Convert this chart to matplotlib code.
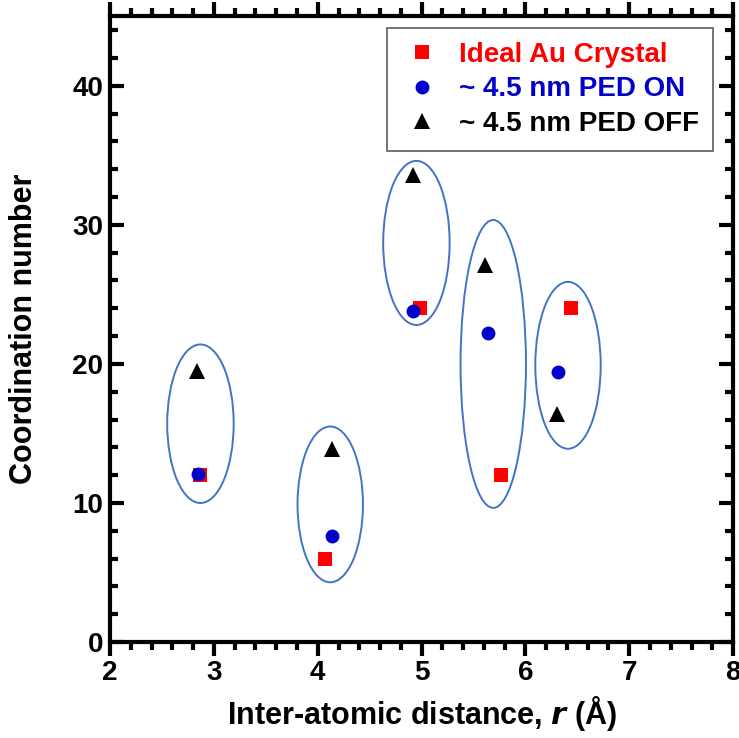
import matplotlib
matplotlib.use("Agg")
import matplotlib.pyplot as plt
from matplotlib.patches import Ellipse
from matplotlib.ticker import MultipleLocator

plt.rcParams["font.family"] = ["Liberation Sans", "DejaVu Sans"]
plt.rcParams["font.weight"] = "bold"

# data
ideal_r = [2.87, 4.07, 4.98, 5.76, 6.44]
ideal_cn = [12.0, 6.0, 24.0, 12.0, 24.0]
on_r = [2.85, 4.14, 4.92, 5.64, 6.31]
on_cn = [12.1, 7.6, 23.8, 22.2, 19.4]
off_r = [2.84, 4.14, 4.92, 5.61, 6.30]
off_cn = [19.5, 13.9, 33.6, 27.1, 16.4]

# grouping ellipses: centre r, centre cn, width, height
ell_r = [2.87, 4.12, 4.95, 5.69, 6.41]
ell_cn = [15.7, 9.9, 28.7, 20.0, 19.9]
ell_w = [0.64, 0.63, 0.64, 0.63, 0.63]
ell_h = [11.4, 11.2, 11.8, 20.7, 12.0]

fig = plt.figure(figsize=(7.39, 7.38), dpi=100)
ax = fig.add_axes([0.149, 0.130, 0.843, 0.848])

for x, y, w, h in zip(ell_r, ell_cn, ell_w, ell_h):
    ax.add_patch(Ellipse((x, y), w, h, fill=False, ec="#4472C4", lw=1.4, zorder=1))

ax.plot(ideal_r, ideal_cn, "s", color="#FF0000", ms=10, mew=0, label="Ideal Au Crystal", zorder=3)
ax.plot(on_r, on_cn, "o", color="#0000CC", ms=10, mew=0, label="~ 4.5 nm PED ON", zorder=4)
ax.plot(off_r, off_cn, "^", color="black", ms=11, mew=0, label="~ 4.5 nm PED OFF", zorder=3)

ax.set_xlim(2, 8)
ax.set_ylim(0, 45)
ax.xaxis.set_major_locator(MultipleLocator(1))
ax.xaxis.set_minor_locator(MultipleLocator(0.2))
ax.yaxis.set_major_locator(MultipleLocator(10))
ax.yaxis.set_minor_locator(MultipleLocator(2))
ax.set_yticks([0, 10, 20, 30, 40])

for s in ax.spines.values():
    s.set_linewidth(3)
ax.tick_params(axis="x", which="both", direction="out", top=True, bottom=True, width=3, labelsize=20, pad=3)
ax.tick_params(axis="x", which="major", length=10)
ax.tick_params(axis="x", which="minor", length=6)
ax.tick_params(axis="y", which="both", direction="in", left=True, right=True, width=3, labelsize=20, pad=5)
ax.tick_params(axis="y", which="major", length=10)
ax.tick_params(axis="y", which="minor", length=6)

ax.set_xlabel("Inter-atomic distance, $\\it{r}$ (Å)", fontsize=22, fontweight="bold", labelpad=6)
ax.set_ylabel("Coordination number", fontsize=22, fontweight="bold", labelpad=24)

leg = ax.legend(loc="upper right", bbox_to_anchor=(0.968, 0.981), fontsize=20, frameon=True,
                fancybox=False, edgecolor="#333333", handletextpad=0.6, borderpad=0.5,
                labelspacing=0.3, handlelength=1.5, borderaxespad=0)
leg.get_frame().set_linewidth(1.2)
for txt, c in zip(leg.get_texts(), ["#FF0000", "#0000CC", "black"]):
    txt.set_color(c)
    txt.set_fontweight("bold")

fig.savefig("out.png", dpi=100)
